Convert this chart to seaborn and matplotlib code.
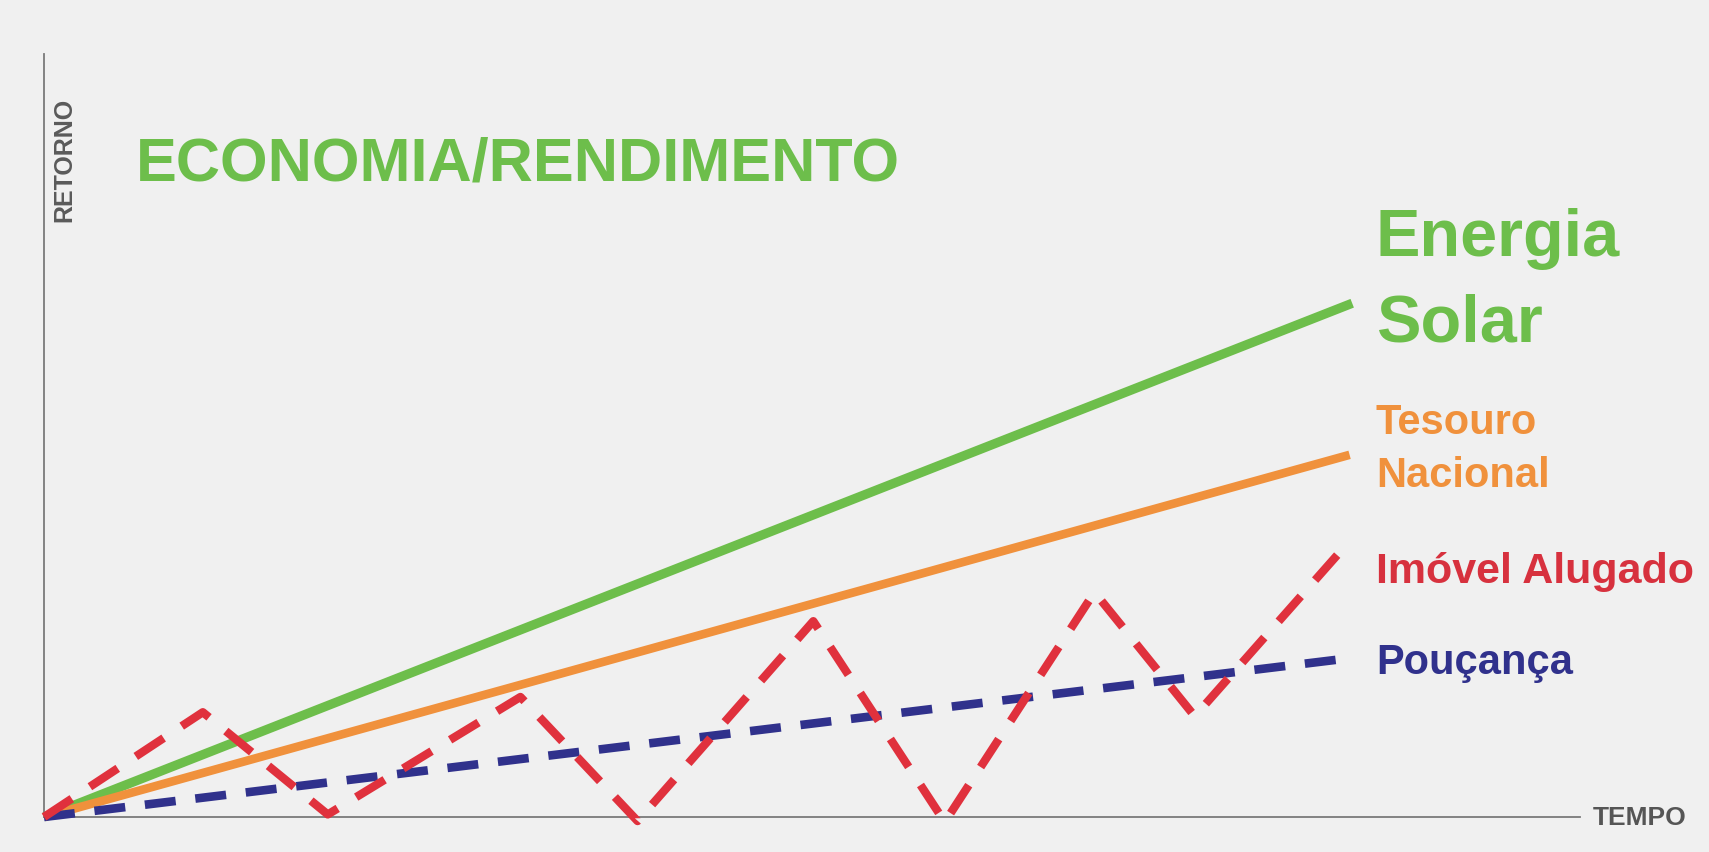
import matplotlib
matplotlib.use("Agg")
import matplotlib.pyplot as plt
import seaborn as sns
import pandas as pd

# ---------------- data ----------------
title = "ECONOMIA/RENDIMENTO"
x_label = "TEMPO"
y_label = "RETORNO"

solar_x = [0.0, 10.05]
solar_y = [0.0, 10.1]
tesouro_x = [0.0, 10.03]
tesouro_y = [0.0, 7.12]
poupanca_x = [0.0, 9.96]
poupanca_y = [0.0, 3.1]
imovel_x = [0.0, 1.22, 2.18, 3.66, 4.56, 5.91, 6.92, 8.07, 8.84, 9.97]
imovel_y = [0.0, 2.06, 0.05, 2.36, -0.08, 3.85, -0.10, 4.42, 1.98, 5.25]

labels = ["Energia\nSolar", "Tesouro\nNacional", "Imóvel Alugado", "Pouçança"]

# ---------------- style ----------------
BG = "#f0f0f0"
GREEN = "#6dbe4b"
ORANGE = "#f0913c"
RED = "#e0313d"
RED_TXT = "#d7313e"
NAVY = "#30318c"
GRAY = "#7a7a7a"

sns.set_theme(style="white")
plt.rcParams["font.family"] = ["Liberation Sans", "DejaVu Sans"]

W, H = 1709, 853
fig = plt.figure(figsize=(W / 100, H / 100), dpi=100, facecolor=BG)
x0, x1, y0, y1 = 44, 1580, 55, 818
ax = fig.add_axes([x0 / W, 1 - y1 / H, (x1 - x0) / W, (y1 - y0) / H])
ax.set_facecolor(BG)

df_solar = pd.DataFrame({"t": solar_x, "r": solar_y})
df_tes = pd.DataFrame({"t": tesouro_x, "r": tesouro_y})
df_pou = pd.DataFrame({"t": poupanca_x, "r": poupanca_y})
df_imo = pd.DataFrame({"t": imovel_x, "r": imovel_y})

sns.lineplot(data=df_solar, x="t", y="r", ax=ax, color=GREEN, linewidth=6.7,
             estimator=None, sort=False, zorder=2)
sns.lineplot(data=df_tes, x="t", y="r", ax=ax, color=ORANGE, linewidth=6.2,
             estimator=None, sort=False, zorder=3)
l_pou = sns.lineplot(data=df_pou, x="t", y="r", ax=ax, color=NAVY, linewidth=6.2,
                     estimator=None, sort=False, zorder=4).lines[-1]
l_pou.set_dashes((3.6, 2.3))
l_imo = sns.lineplot(data=df_imo, x="t", y="r", ax=ax, color=RED, linewidth=6.0,
                     estimator=None, sort=False, zorder=5).lines[-1]
l_imo.set_dashes((4.0, 2.6))
for ln in ax.lines:
    ln.set_clip_on(False)
    ln.set_solid_capstyle("butt")

ax.set_xlim(0, 11.8)
ax.set_ylim(0, 15)
ax.set_xticks([])
ax.set_yticks([])
ax.set_xlabel("")
ax.set_ylabel("")
for s in ["top", "right"]:
    ax.spines[s].set_visible(False)
for s in ["left", "bottom"]:
    ax.spines[s].set_color(GRAY)
    ax.spines[s].set_linewidth(1.3)

# ---------------- texts ----------------
def fx(px):
    return px / W

def fy(py):
    return 1 - py / H

fig.text(fx(136), fy(180), title, color=GREEN, fontsize=44, fontweight="bold",
         va="baseline", ha="left")
fig.text(fx(64), fy(160), y_label, color="#5a5a5a", fontsize=18, rotation=90,
         fontweight="bold", va="center", ha="center")
fig.text(fx(1593), fy(818), x_label, color="#555555", fontsize=19,
         fontweight="bold", va="center", ha="left")

fig.text(fx(1376), fy(256), labels[0].split("\n")[0], color=GREEN, fontsize=48,
         fontweight="bold", va="baseline", ha="left")
fig.text(fx(1376), fy(341), labels[0].split("\n")[1], color=GREEN, fontsize=48,
         fontweight="bold", va="baseline", ha="left")
fig.text(fx(1376), fy(434), labels[1].split("\n")[0], color=ORANGE, fontsize=30,
         fontweight="bold", va="baseline", ha="left")
fig.text(fx(1376), fy(487), labels[1].split("\n")[1], color=ORANGE, fontsize=30,
         fontweight="bold", va="baseline", ha="left")
fig.text(fx(1376), fy(583), labels[2], color=RED_TXT, fontsize=31,
         fontweight="bold", va="baseline", ha="left")
fig.text(fx(1376), fy(674), labels[3], color=NAVY, fontsize=30,
         fontweight="bold", va="baseline", ha="left")

fig.savefig("out.png", dpi=100, facecolor=BG)
